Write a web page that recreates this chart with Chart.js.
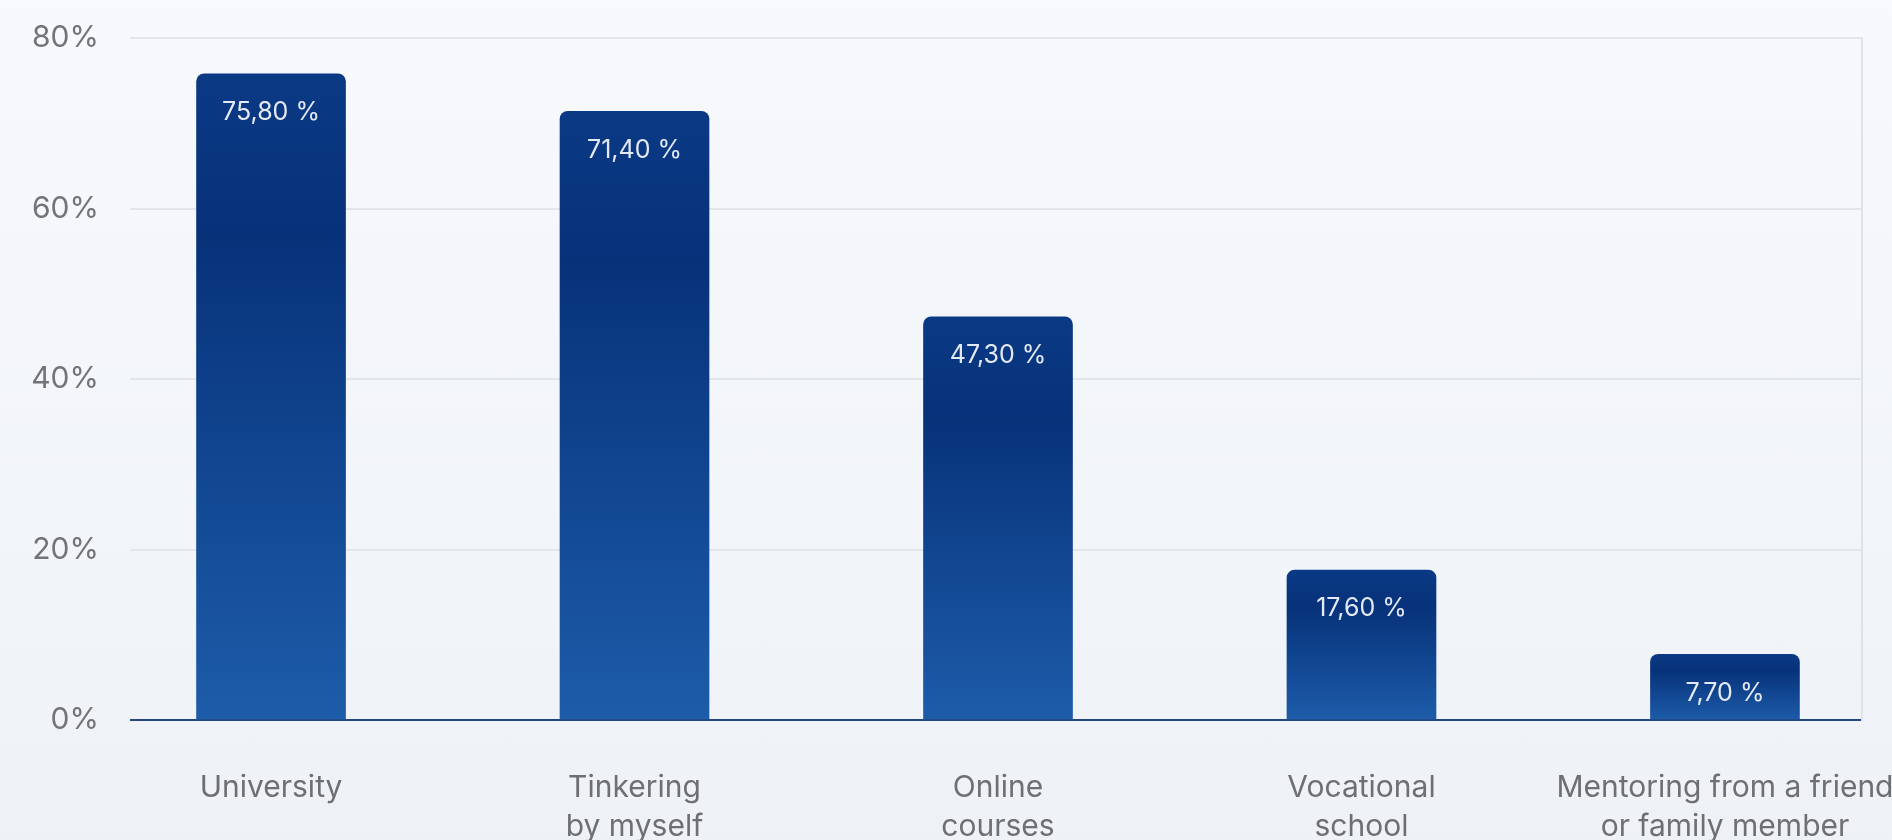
<!DOCTYPE html>
<html>
<head>
<meta charset="utf-8">
<title>Learning sources</title>
<script src="https://cdn.jsdelivr.net/npm/chart.js@4/dist/chart.umd.min.js"></script>
<style>
  html, body { margin: 0; padding: 0; }
  body { width: 1892px; height: 840px; background: linear-gradient(180deg, #f7f9fc 0%, #f2f5f9 60%, #eef2f7 100%); overflow: hidden; }
  #wrap { width: 1892px; height: 840px; }
</style>
</head>
<body>
<div id="wrap"><canvas id="chart" width="1892" height="840"></canvas></div>
<script>
// where people learned it, share of respondents
const categories = [
  'University',
  ['Tinkering', 'by myself'],
  ['Online', 'courses'],
  ['Vocational', 'school'],
  ['Mentoring from a friend', 'or family member']
];
const shares = [75.8, 71.4, 47.3, 17.6, 7.7];
const yTicks = [0, 20, 40, 60, 80];

const FONT = 'Inter, "Open Sans", sans-serif';

// each bar gets its own top-to-base gradient
const barFill = (ctx) => {
  const chart = ctx.chart;
  if (!chart.chartArea || !ctx.parsed) return '#12468f';
  const y = chart.scales.y;
  const top = y.getPixelForValue(ctx.parsed.y);
  const base = y.getPixelForValue(0);
  const g = chart.ctx.createLinearGradient(0, top, 0, base);
  g.addColorStop(0, '#0b3984');
  g.addColorStop(0.25, '#07327a');
  g.addColorStop(1, '#1d5ca9');
  return g;
};

const fmtShare = v => v.toFixed(2).replace('.', ',') + ' %';

// value text sits inside each bar, just under its top
const barLabels = {
  id: 'barLabels',
  afterDatasetsDraw(chart) {
    const { ctx } = chart;
    const meta = chart.getDatasetMeta(0);
    ctx.save();
    ctx.font = '25px ' + FONT;
    ctx.fillStyle = '#e3eaf5';
    ctx.textAlign = 'center';
    ctx.textBaseline = 'middle';
    meta.data.forEach((bar, i) => {
      ctx.fillText(fmtShare(shares[i]), bar.x, bar.y + 39);
    });
    ctx.restore();
  }
};

new Chart(document.getElementById('chart'), {
  type: 'bar',
  data: {
    datasets: [{
      data: shares.map((v, i) => ({ x: i, y: v })),
      backgroundColor: barFill,
      borderRadius: 8,
      borderSkipped: 'start',
      barThickness: 149
    }]
  },
  options: {
    responsive: false,
    animation: false,
    devicePixelRatio: 1,
    layout: { padding: { top: 38, left: 0, right: 0, bottom: 0 } },
    plugins: { legend: { display: false }, tooltip: { enabled: false } },
    scales: {
      x: {
        type: 'linear',
        offset: false,
        min: -0.388,
        max: 4.377,
        grid: { display: false },
        border: { display: false },
        afterBuildTicks: s => { s.ticks = categories.map((_, i) => ({ value: i })); },
        afterFit: s => { s.height = 120; s.paddingLeft = 0; s.paddingRight = 0; },
        ticks: {
          autoSkip: false,
          maxRotation: 0,
          padding: 40,
          color: '#6d6f73',
          font: { family: FONT, size: 30, lineHeight: 1.3 },
          callback: v => categories[v]
        }
      },
      y: {
        min: 0,
        max: 80,
        afterBuildTicks: s => { s.ticks = yTicks.map(v => ({ value: v })); },
        afterFit: s => { s.width = 130; s.paddingTop = 0; s.paddingBottom = 0; },
        border: { display: false },
        grid: {
          drawTicks: false,
          lineWidth: 2,
          color: c => c.tick && c.tick.value === 0 ? '#24477f' : '#e2e5e9'
        },
        ticks: {
          padding: 31,
          color: '#727477',
          font: { family: FONT, size: 30 },
          callback: v => v + '%'
        }
      },
      yRight: {
        position: 'right',
        min: 0,
        max: 80,
        grid: { display: false },
        ticks: { display: false },
        border: { display: true, color: '#dfe2e6', width: 2 },
        afterFit: s => { s.width = 30; s.paddingTop = 0; s.paddingBottom = 0; }
      }
    }
  },
  plugins: [barLabels]
});
</script>
</body>
</html>
